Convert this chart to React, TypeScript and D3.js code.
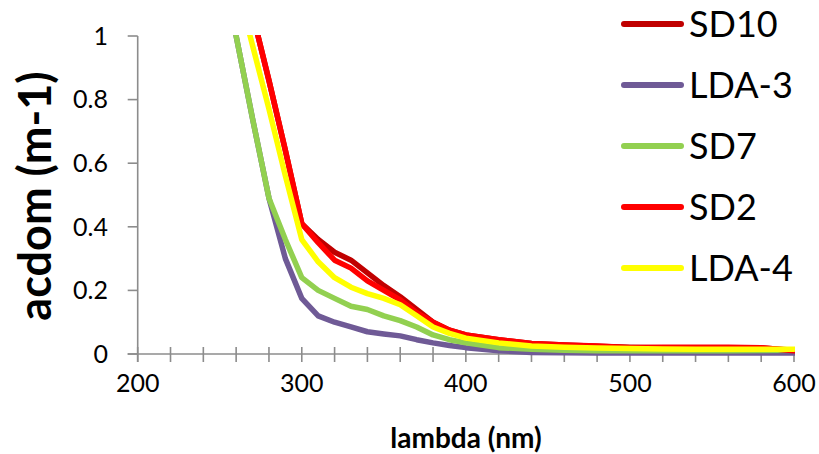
import React from "react";
import * as d3 from "d3";

const wavelengths = [250, 260, 270, 280, 290, 300, 310, 320, 330, 340, 350, 360, 370, 380, 390, 400, 420, 440, 460, 480, 500, 520, 540, 560, 580, 600];

const sd10 = [1.5, 1.28, 1.07, 0.86, 0.64, 0.41, 0.36, 0.32, 0.295, 0.255, 0.215, 0.18, 0.14, 0.1, 0.075, 0.06, 0.045, 0.033, 0.028, 0.024, 0.021, 0.02, 0.02, 0.019, 0.019, 0.012];
const lda3 = [1.3, 1.0, 0.74, 0.49, 0.3, 0.175, 0.12, 0.1, 0.085, 0.07, 0.063, 0.057, 0.045, 0.035, 0.027, 0.02, 0.01, 0.005, 0.004, 0.003, 0.003, 0.003, 0.003, 0.003, 0.003, 0.003];
const sd7 = [1.3, 1.0, 0.74, 0.49, 0.36, 0.24, 0.2, 0.175, 0.15, 0.14, 0.12, 0.105, 0.085, 0.06, 0.045, 0.035, 0.02, 0.015, 0.012, 0.01, 0.01, 0.01, 0.01, 0.01, 0.011, 0.012];
const sd2 = [1.5, 1.28, 1.07, 0.86, 0.64, 0.41, 0.35, 0.295, 0.27, 0.23, 0.2, 0.17, 0.13, 0.1, 0.075, 0.06, 0.045, 0.033, 0.028, 0.025, 0.02, 0.021, 0.021, 0.021, 0.02, 0.01];
const lda4 = [1.37, 1.17, 0.97, 0.77, 0.56, 0.36, 0.29, 0.24, 0.21, 0.19, 0.175, 0.155, 0.12, 0.085, 0.065, 0.05, 0.035, 0.025, 0.021, 0.019, 0.017, 0.016, 0.015, 0.015, 0.015, 0.015];

const seriesNames = ["SD10", "LDA-3", "SD7", "SD2", "LDA-4"];
const seriesValues = [sd10, lda3, sd7, sd2, lda4];
const seriesColors = ["#C00000", "#6F5A96", "#92D050", "#FF0000", "#FFFF00"];

const xTickLabels = [200, 300, 400, 500, 600];
const xMinorTicks = [200, 220, 240, 260, 280, 300, 320, 340, 360, 380, 400, 420, 440, 460, 480, 500, 520, 540, 560, 580, 600];
const yTickLabels = [0, 0.2, 0.4, 0.6, 0.8, 1];

const xTitle = "lambda (nm)";
const yTitle = "acdom (m-1)";

export default function App() {
  const W = 819;
  const H = 454;
  const x = d3.scaleLinear().domain([200, 600]).range([137.7, 794]);
  const y = d3.scaleLinear().domain([0, 1]).range([354, 36]);
  const axisColor = "#8C8C8C";
  const font = "Lato, 'Open Sans', sans-serif";

  const line = d3
    .line<[number, number]>()
    .x((d) => x(d[0]))
    .y((d) => y(d[1]));

  const legendY = d3.scalePoint<string>().domain(seriesNames).range([24, 268]);

  return (
    <svg width={W} height={H} style={{ position: "absolute", left: 0, top: 0, background: "#fff" }}>
      <defs>
        <clipPath id="plotClip">
          <rect x={x(200)} y={y(1) - 1} width={x(600) - x(200) + 1} height={H} />
        </clipPath>
      </defs>
      <rect x={0} y={0} width={W} height={H} fill="#fff" />

      {/* Y axis */}
      <line x1={x(200)} x2={x(200)} y1={y(1)} y2={y(0) + 8} stroke={axisColor} strokeWidth={1.6} />
      {yTickLabels.map((t) => (
        <g key={"y" + t}>
          <line x1={x(200) - 10} x2={x(200)} y1={y(t)} y2={y(t)} stroke={axisColor} strokeWidth={1.6} />
          <text x={108} y={y(t)} dy="0.35em" textAnchor="end" fontFamily={font} fontSize={25} fill="#000">
            {d3.format("~g")(t)}
          </text>
        </g>
      ))}

      {/* X axis */}
      <line x1={x(200) - 10} x2={x(600)} y1={y(0)} y2={y(0)} stroke={axisColor} strokeWidth={1.6} />
      {xMinorTicks.map((t) => (
        <line key={"xm" + t} x1={x(t)} x2={x(t)} y1={y(0) - 7} y2={y(0) + 8} stroke={axisColor} strokeWidth={1.6} />
      ))}
      {xTickLabels.map((t) => (
        <text key={"xl" + t} x={x(t)} y={392} textAnchor="middle" fontFamily={font} fontSize={25} fill="#000">
          {t}
        </text>
      ))}

      {/* Series lines */}
      <g clipPath="url(#plotClip)">
        {seriesValues.map((vals, i) => (
          <path
            key={seriesNames[i]}
            d={line(wavelengths.map((w, j) => [w, vals[j]] as [number, number])) || ""}
            fill="none"
            stroke={seriesColors[i]}
            strokeWidth={5.5}
            strokeLinejoin="round"
            strokeLinecap="round"
          />
        ))}
      </g>

      {/* Axis titles */}
      <text x={466} y={448} textAnchor="middle" fontFamily={font} fontWeight="bold" fontSize={28} fill="#000">
        {xTitle}
      </text>
      <text
        transform={`translate(51,196) rotate(-90)`}
        textAnchor="middle"
        fontFamily={font}
        fontWeight="bold"
        fontSize={45}
        fill="#000"
      >
        {yTitle}
      </text>

      {/* Legend */}
      {seriesNames.map((n, i) => (
        <g key={"lg" + n}>
          <line x1={624} x2={681} y1={legendY(n)} y2={legendY(n)} stroke={seriesColors[i]} strokeWidth={6} strokeLinecap="round" />
          <text x={689} y={legendY(n)} dy="0.36em" fontFamily={font} fontSize={36} fill="#000">
            {n}
          </text>
        </g>
      ))}
    </svg>
  );
}
